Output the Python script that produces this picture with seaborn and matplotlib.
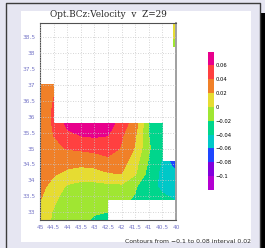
import numpy as np
import matplotlib
matplotlib.use("Agg")
import matplotlib.pyplot as plt
from matplotlib.colors import ListedColormap, BoundaryNorm
from matplotlib.cm import ScalarMappable
from matplotlib.patches import Rectangle
from matplotlib.lines import Line2D
import seaborn as sns

nan = np.nan

# grid of the model field (lon runs east -> west on the plot)
lon = [45, 44.5, 44, 43.5, 43, 42.5, 42, 41.5, 41, 40.5, 40.1, 39.9]
lat = [32.6, 33.0, 33.4, 33.8, 34.2, 34.6, 35.0, 35.4, 35.8, 36.2,
       36.6, 37.0, 37.4, 37.8, 38.2, 38.6, 39.0]

# velocity, one row per latitude (bottom to top), nan = land / no data
vel = [
    [0.010, -0.004, -0.013, -0.018, -0.026, -0.032, nan, nan, nan, nan, nan, nan],
    [0.014, -0.002, -0.012, -0.014, -0.018, -0.020, nan, nan, nan, nan, nan, nan],
    [0.021, 0.004, -0.010, -0.012, -0.012, -0.014, -0.016, -0.022, -0.033, -0.037, -0.040, -0.040],
    [0.026, 0.012, -0.003, -0.008, -0.008, -0.006, -0.005, -0.018, -0.035, -0.043, -0.048, -0.048],
    [0.030, 0.022, 0.015, 0.012, 0.013, 0.018, 0.020, 0.002, -0.028, -0.045, -0.052, -0.055],
    [0.032, 0.032, 0.028, 0.026, 0.028, 0.034, 0.030, 0.008, -0.022, -0.042, -0.070, -0.080],
    [0.032, 0.036, 0.041, 0.043, 0.046, 0.050, 0.038, 0.018, -0.018, -0.035, nan, nan],
    [0.026, 0.040, 0.055, 0.060, 0.062, 0.060, 0.042, 0.022, -0.020, -0.038, nan, nan],
    [0.022, 0.043, 0.065, 0.075, 0.075, 0.070, 0.050, 0.030, -0.020, -0.035, nan, nan],
    [0.021, 0.043, nan, nan, nan, nan, nan, nan, nan, nan, nan, nan],
    [0.021, 0.040, nan, nan, nan, nan, nan, nan, nan, nan, nan, nan],
    [0.021, 0.030, nan, nan, nan, nan, nan, nan, nan, nan, nan, nan],
    [nan, nan, nan, nan, nan, nan, nan, nan, nan, nan, nan, nan],
    [nan, nan, nan, nan, nan, nan, nan, nan, nan, nan, nan, nan],
    [nan, nan, nan, nan, nan, nan, nan, nan, nan, nan, -0.012, -0.012],
    [nan, nan, nan, nan, nan, nan, nan, nan, nan, nan, 0.006, 0.006],
    [nan, nan, nan, nan, nan, nan, nan, nan, nan, nan, 0.012, 0.012],
]

levels = [-1, -0.1, -0.08, -0.06, -0.04, -0.02, 0, 0.02, 0.04, 0.06, 1]
bar_bounds = [-0.12, -0.1, -0.08, -0.06, -0.04, -0.02, 0, 0.02, 0.04, 0.06, 0.08]
bar_ticks = [-0.1, -0.08, -0.06, -0.04, -0.02, 0, 0.02, 0.04, 0.06]
bar_labels = ["\u22120.1", "\u22120.08", "\u22120.06", "\u22120.04", "\u22120.02",
              "0", "0.02", "0.04", "0.06"]
band_colors = ["#b400d2", "#8200dc", "#1e46ff", "#00c8c8", "#00d68c",
               "#a0e632", "#e6dc32", "#f08028", "#ff4040", "#e8008c"]

x_ticks = [45, 44.5, 44, 43.5, 43, 42.5, 42, 41.5, 41, 40.5, 40]
x_labels = ["45", "44.5", "44", "43.5", "43", "42.5", "42", "41.5", "41", "40.5", "40"]
y_ticks = [33, 33.5, 34, 34.5, 35, 35.5, 36, 36.5, 37, 37.5, 38, 38.5]
y_labels = ["33", "33.5", "34", "34.5", "35", "35.5", "36", "36.5", "37", "37.5", "38", "38.5"]

title = "Opt.BCz:Velocity  v  Z=29"
footnote = "Contours from \u22120.1 to 0.08 interval 0.02"

sns.set_style("white")
palette = sns.color_palette(band_colors)
tick_color = "#7878c8"

W, H = 265, 248
fig = plt.figure(figsize=(W / 100, H / 100), dpi=100, facecolor="#e6e6f2")


def fx(px):
    return px / W


def fy(py):
    return 1 - py / H


# page decoration: white panel, frame line, black strip
fig.patches.append(Rectangle((fx(21), fy(242)), fx(230), 231 / H, transform=fig.transFigure,
                             facecolor="white", edgecolor="none", zorder=-10))
fig.patches.append(Rectangle((fx(260), 0), fx(5), fy(13), transform=fig.transFigure,
                             facecolor="black", edgecolor="none", zorder=-10))
fig.lines.append(Line2D([fx(6), fx(6), fx(259.5), fx(259.5)], [0, fy(3), fy(3), 0],
                        transform=fig.transFigure, color="#3c3c3c", lw=1.0, zorder=-9))

ax = fig.add_axes([fx(40), fy(220), fx(136), 197 / H])
X, Y = np.meshgrid(lon, lat)
Z = np.ma.masked_invalid(np.array(vel))
ax.contourf(X, Y, Z, levels=levels, colors=palette, corner_mask=False)

ax.set_xlim(45, 40)
ax.set_ylim(32.75, 38.95)
ax.set_xticks(x_ticks, x_labels)
ax.set_yticks(y_ticks, y_labels)
ax.tick_params(labelsize=4.2, colors=tick_color, length=2, width=0.5, pad=1.5,
               direction="out")
ax.grid(True, color="#c8c8c8", lw=0.6, ls=(0, (1, 2)))
ax.set_axisbelow(False)
for side, sp in ax.spines.items():
    sp.set_color("#505050")
    sp.set_linewidth(0.8)
ax.spines["right"].set_color("#a0a0a0")
ax.spines["right"].set_linewidth(1.4)
ax.set_title(title, fontsize=6.4, family="DejaVu Serif", pad=4)

# colour key drawn as a plain stack of bands
cax = fig.add_axes([fx(207.5), fy(190), fx(6), 138.5 / H])
sm = ScalarMappable(norm=BoundaryNorm(bar_bounds, len(band_colors)),
                    cmap=ListedColormap(palette))
cb = fig.colorbar(sm, cax=cax, ticks=bar_ticks, spacing="uniform", drawedges=False)
cb.outline.set_visible(False)
for sp in cax.spines.values():
    sp.set_visible(False)
cax.minorticks_off()
cax.set_yticks(bar_ticks, bar_labels)
cax.set_yticks([], minor=True)
cax.tick_params(which="both", labelsize=3.8, length=0, width=0, pad=1.5, colors="black")
cax.xaxis.set_visible(False)

fig.text(fx(251), fy(244), footnote, ha="right", va="bottom", fontsize=4.4)

fig.savefig("out.png", dpi=100, facecolor=fig.get_facecolor())
